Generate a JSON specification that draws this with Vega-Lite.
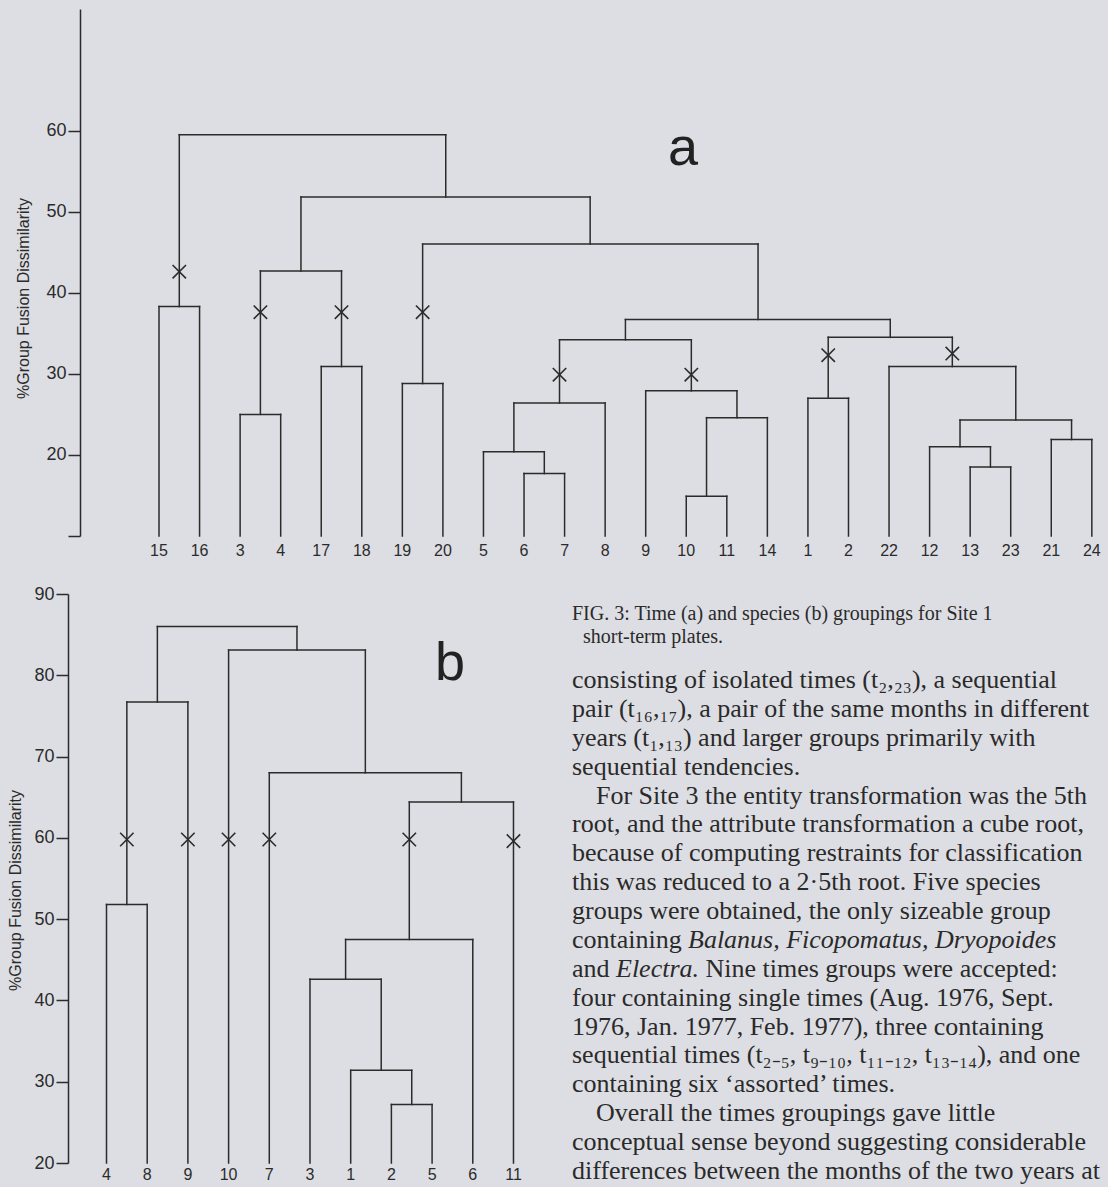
{
  "$schema": "https://vega.github.io/schema/vega-lite/v6.json",
  "background": "#dddee3",
  "padding": {"top": 9, "left": 7, "right": 0, "bottom": 0},
  "bounds": "flush",
  "spacing": 58,
  "config": {"view": {"stroke": null}, "axis": {"grid": false}},
  "datasets": {
    "segA": [
      {"pos":0,"pos2":0,"h":10,"h2":38.3},{"pos":1,"pos2":1,"h":10,"h2":38.3},
      {"pos":2,"pos2":2,"h":10,"h2":25.0},{"pos":3,"pos2":3,"h":10,"h2":25.0},
      {"pos":4,"pos2":4,"h":10,"h2":30.9},{"pos":5,"pos2":5,"h":10,"h2":30.9},
      {"pos":6,"pos2":6,"h":10,"h2":28.8},{"pos":7,"pos2":7,"h":10,"h2":28.8},
      {"pos":8,"pos2":8,"h":10,"h2":20.4},{"pos":9,"pos2":9,"h":10,"h2":17.7},
      {"pos":10,"pos2":10,"h":10,"h2":17.7},{"pos":11,"pos2":11,"h":10,"h2":26.4},
      {"pos":12,"pos2":12,"h":10,"h2":27.9},{"pos":13,"pos2":13,"h":10,"h2":14.9},
      {"pos":14,"pos2":14,"h":10,"h2":14.9},{"pos":15,"pos2":15,"h":10,"h2":24.6},
      {"pos":16,"pos2":16,"h":10,"h2":27.0},{"pos":17,"pos2":17,"h":10,"h2":27.0},
      {"pos":18,"pos2":18,"h":10,"h2":30.9},{"pos":19,"pos2":19,"h":10,"h2":21.0},
      {"pos":20,"pos2":20,"h":10,"h2":18.5},{"pos":21,"pos2":21,"h":10,"h2":18.5},
      {"pos":22,"pos2":22,"h":10,"h2":21.9},{"pos":23,"pos2":23,"h":10,"h2":21.9},
      {"pos":0.5,"pos2":0.5,"h":38.3,"h2":59.5},
      {"pos":2.5,"pos2":2.5,"h":25.0,"h2":42.7},
      {"pos":4.5,"pos2":4.5,"h":30.9,"h2":42.7},
      {"pos":3.5,"pos2":3.5,"h":42.7,"h2":51.8},
      {"pos":6.5,"pos2":6.5,"h":28.8,"h2":46.0},
      {"pos":9.5,"pos2":9.5,"h":17.7,"h2":20.4},
      {"pos":8.75,"pos2":8.75,"h":20.4,"h2":26.4},
      {"pos":9.875,"pos2":9.875,"h":26.4,"h2":34.2},
      {"pos":13.5,"pos2":13.5,"h":14.9,"h2":24.6},
      {"pos":14.25,"pos2":14.25,"h":24.6,"h2":27.9},
      {"pos":13.125,"pos2":13.125,"h":27.9,"h2":34.2},
      {"pos":11.5,"pos2":11.5,"h":34.2,"h2":36.7},
      {"pos":16.5,"pos2":16.5,"h":27.0,"h2":34.5},
      {"pos":20.5,"pos2":20.5,"h":18.5,"h2":21.0},
      {"pos":19.75,"pos2":19.75,"h":21.0,"h2":24.3},
      {"pos":22.5,"pos2":22.5,"h":21.9,"h2":24.3},
      {"pos":21.125,"pos2":21.125,"h":24.3,"h2":30.9},
      {"pos":19.56,"pos2":19.56,"h":30.9,"h2":34.5},
      {"pos":18.03,"pos2":18.03,"h":34.5,"h2":36.7},
      {"pos":14.77,"pos2":14.77,"h":36.7,"h2":46.0},
      {"pos":10.63,"pos2":10.63,"h":46.0,"h2":51.8},
      {"pos":7.07,"pos2":7.07,"h":51.8,"h2":59.5},
      {"pos":0,"pos2":1,"h":38.3,"h2":38.3},
      {"pos":2,"pos2":3,"h":25.0,"h2":25.0},
      {"pos":4,"pos2":5,"h":30.9,"h2":30.9},
      {"pos":2.5,"pos2":4.5,"h":42.7,"h2":42.7},
      {"pos":6,"pos2":7,"h":28.8,"h2":28.8},
      {"pos":9,"pos2":10,"h":17.7,"h2":17.7},
      {"pos":8,"pos2":9.5,"h":20.4,"h2":20.4},
      {"pos":8.75,"pos2":11,"h":26.4,"h2":26.4},
      {"pos":13,"pos2":14,"h":14.9,"h2":14.9},
      {"pos":13.5,"pos2":15,"h":24.6,"h2":24.6},
      {"pos":12,"pos2":14.25,"h":27.9,"h2":27.9},
      {"pos":9.875,"pos2":13.125,"h":34.2,"h2":34.2},
      {"pos":16,"pos2":17,"h":27.0,"h2":27.0},
      {"pos":20,"pos2":21,"h":18.5,"h2":18.5},
      {"pos":19,"pos2":20.5,"h":21.0,"h2":21.0},
      {"pos":22,"pos2":23,"h":21.9,"h2":21.9},
      {"pos":19.75,"pos2":22.5,"h":24.3,"h2":24.3},
      {"pos":18,"pos2":21.125,"h":30.9,"h2":30.9},
      {"pos":16.5,"pos2":19.56,"h":34.5,"h2":34.5},
      {"pos":11.5,"pos2":18.03,"h":36.7,"h2":36.7},
      {"pos":6.5,"pos2":14.77,"h":46.0,"h2":46.0},
      {"pos":3.5,"pos2":10.63,"h":51.8,"h2":51.8},
      {"pos":0.5,"pos2":7.07,"h":59.5,"h2":59.5}
    ],
    "cutsA": [
      {"pos":0.5,"h":42.6},{"pos":2.5,"h":37.6},{"pos":4.5,"h":37.6},{"pos":6.5,"h":37.6},
      {"pos":9.875,"h":29.9},{"pos":13.125,"h":29.9},{"pos":16.5,"h":32.3},{"pos":19.56,"h":32.5}
    ],
    "leavesA": [
      {"pos":0,"label":"15"},{"pos":1,"label":"16"},{"pos":2,"label":"3"},{"pos":3,"label":"4"},
      {"pos":4,"label":"17"},{"pos":5,"label":"18"},{"pos":6,"label":"19"},{"pos":7,"label":"20"},
      {"pos":8,"label":"5"},{"pos":9,"label":"6"},{"pos":10,"label":"7"},{"pos":11,"label":"8"},
      {"pos":12,"label":"9"},{"pos":13,"label":"10"},{"pos":14,"label":"11"},{"pos":15,"label":"14"},
      {"pos":16,"label":"1"},{"pos":17,"label":"2"},{"pos":18,"label":"22"},{"pos":19,"label":"12"},
      {"pos":20,"label":"13"},{"pos":21,"label":"23"},{"pos":22,"label":"21"},{"pos":23,"label":"24"}
    ],
    "letterA": [{"pos":12.92,"h":55.8,"letter":"a"}],
    "segB": [
      {"pos":0,"pos2":0,"h":20,"h2":51.8},{"pos":1,"pos2":1,"h":20,"h2":51.8},
      {"pos":2,"pos2":2,"h":20,"h2":76.7},{"pos":3,"pos2":3,"h":20,"h2":83.1},
      {"pos":4,"pos2":4,"h":20,"h2":68.0},{"pos":5,"pos2":5,"h":20,"h2":42.6},
      {"pos":6,"pos2":6,"h":20,"h2":31.4},{"pos":7,"pos2":7,"h":20,"h2":27.2},
      {"pos":8,"pos2":8,"h":20,"h2":27.2},{"pos":9,"pos2":9,"h":20,"h2":47.5},
      {"pos":10,"pos2":10,"h":20,"h2":64.4},
      {"pos":0.5,"pos2":0.5,"h":51.8,"h2":76.7},
      {"pos":1.25,"pos2":1.25,"h":76.7,"h2":86.0},
      {"pos":7.5,"pos2":7.5,"h":27.2,"h2":31.4},
      {"pos":6.75,"pos2":6.75,"h":31.4,"h2":42.6},
      {"pos":5.875,"pos2":5.875,"h":42.6,"h2":47.5},
      {"pos":7.44,"pos2":7.44,"h":47.5,"h2":64.4},
      {"pos":8.72,"pos2":8.72,"h":64.4,"h2":68.0},
      {"pos":6.36,"pos2":6.36,"h":68.0,"h2":83.1},
      {"pos":4.68,"pos2":4.68,"h":83.1,"h2":86.0},
      {"pos":0,"pos2":1,"h":51.8,"h2":51.8},
      {"pos":0.5,"pos2":2,"h":76.7,"h2":76.7},
      {"pos":7,"pos2":8,"h":27.2,"h2":27.2},
      {"pos":6,"pos2":7.5,"h":31.4,"h2":31.4},
      {"pos":5,"pos2":6.75,"h":42.6,"h2":42.6},
      {"pos":5.875,"pos2":9,"h":47.5,"h2":47.5},
      {"pos":7.44,"pos2":10,"h":64.4,"h2":64.4},
      {"pos":4,"pos2":8.72,"h":68.0,"h2":68.0},
      {"pos":3,"pos2":6.36,"h":83.1,"h2":83.1},
      {"pos":1.25,"pos2":4.68,"h":86.0,"h2":86.0}
    ],
    "cutsB": [
      {"pos":0.5,"h":59.8},{"pos":2,"h":59.8},{"pos":3,"h":59.8},{"pos":4,"h":59.8},
      {"pos":7.44,"h":59.8},{"pos":10,"h":59.6}
    ],
    "leavesB": [
      {"pos":0,"label":"4"},{"pos":1,"label":"8"},{"pos":2,"label":"9"},{"pos":3,"label":"10"},
      {"pos":4,"label":"7"},{"pos":5,"label":"3"},{"pos":6,"label":"1"},{"pos":7,"label":"2"},
      {"pos":8,"label":"5"},{"pos":9,"label":"6"},{"pos":10,"label":"11"}
    ],
    "letterB": [{"pos":8.44,"h":79.4,"letter":"b"}],
    "caption": [
      {"line":1,"part":"main","text":"FIG. 3: Time (a) and species (b) groupings for Site 1"},
      {"line":2,"part":"indent","text":"short-term plates."}
    ],
    "body": [
      {"line":1,"part":"main","text":"consisting of isolated times (t₂,₂₃), a sequential"},
      {"line":2,"part":"main","text":"pair (t₁₆,₁₇), a pair of the same months in different"},
      {"line":3,"part":"main","text":"years (t₁,₁₃) and larger groups primarily with"},
      {"line":4,"part":"main","text":"sequential tendencies."},
      {"line":5,"part":"indent","text":"For Site 3 the entity transformation was the 5th"},
      {"line":6,"part":"main","text":"root, and the attribute transformation a cube root,"},
      {"line":7,"part":"main","text":"because of computing restraints for classification"},
      {"line":8,"part":"main","text":"this was reduced to a 2·5th root. Five species"},
      {"line":9,"part":"main","text":"groups were obtained, the only sizeable group"},
      {"line":10,"part":"main","text":"containing"},
      {"line":10,"part":"genera","text":"Balanus, Ficopomatus, Dryopoides"},
      {"line":11,"part":"main","text":"and"},
      {"line":11,"part":"genus","text":"Electra."},
      {"line":11,"part":"rest","text":"Nine times groups were accepted:"},
      {"line":12,"part":"main","text":"four containing single times (Aug. 1976, Sept."},
      {"line":13,"part":"main","text":"1976, Jan. 1977, Feb. 1977), three containing"},
      {"line":14,"part":"main","text":"sequential times (t₂₋₅, t₉₋₁₀, t₁₁₋₁₂, t₁₃₋₁₄), and one"},
      {"line":15,"part":"main","text":"containing six ‘assorted’ times."},
      {"line":16,"part":"indent","text":"Overall the times groupings gave little"},
      {"line":17,"part":"main","text":"conceptual sense beyond suggesting considerable"},
      {"line":18,"part":"main","text":"differences between the months of the two years at"}
    ]
  },
  "vconcat": [
    {
      "width": 1036,
      "height": 527,
      "layer": [
        {
          "data": {"name": "segA"},
          "mark": {"type": "rule", "color": "#2b2b2b", "strokeWidth": 1.5, "strokeCap": "square"},
          "encoding": {
            "x": {"field": "pos", "type": "quantitative", "scale": {"domain": [-2.244, 23.3], "nice": false, "zero": false}, "axis": null},
            "x2": {"field": "pos2"},
            "y": {"field": "h", "type": "quantitative", "scale": {"domain": [10, 75], "nice": false, "zero": false},
              "axis": {"values": [10, 20, 30, 40, 50, 60], "labelExpr": "datum.value == 10 ? '' : datum.label",
                "tickSize": 12, "labelPadding": 2, "offset": -12,
                "domainColor": "#2b2b2b", "domainWidth": 1.5, "tickColor": "#2b2b2b", "tickWidth": 1.5,
                "labelFont": "Liberation Sans", "labelFontSize": 18, "labelColor": "#2b2b2b",
                "title": "%Group Fusion Dissimilarity", "titleFont": "Liberation Sans", "titleFontSize": 16,
                "titleFontWeight": "normal", "titleColor": "#2b2b2b", "titleX": -57, "titleY": 289,
                "titleBaseline": "middle", "titleAngle": 270}},
            "y2": {"field": "h2"}
          }
        },
        {
          "data": {"name": "cutsA"},
          "mark": {"type": "point", "shape": "M-1,-1L1,1M-1,1L1,-1", "size": 180, "filled": false, "strokeWidth": 1.6, "color": "#2b2b2b", "opacity": 1},
          "encoding": {
            "x": {"field": "pos", "type": "quantitative"},
            "y": {"field": "h", "type": "quantitative"}
          }
        },
        {
          "data": {"name": "leavesA"},
          "mark": {"type": "text", "baseline": "top", "dy": 7, "font": "Liberation Sans", "fontSize": 16, "color": "#2b2b2b"},
          "encoding": {
            "x": {"field": "pos", "type": "quantitative"},
            "y": {"datum": 10, "type": "quantitative"},
            "text": {"field": "label"}
          }
        },
        {
          "data": {"name": "letterA"},
          "mark": {"type": "text", "baseline": "alphabetic", "font": "Liberation Sans", "fontSize": 54, "color": "#222222"},
          "encoding": {
            "x": {"field": "pos", "type": "quantitative"},
            "y": {"field": "h", "type": "quantitative"},
            "text": {"field": "letter"}
          }
        }
      ]
    },
    {
      "bounds": "flush",
      "spacing": 40,
      "hconcat": [
        {
          "width": 464,
          "height": 569,
          "layer": [
            {
              "data": {"name": "segB"},
              "mark": {"type": "rule", "color": "#2b2b2b", "strokeWidth": 1.5, "strokeCap": "square"},
              "encoding": {
                "x": {"field": "pos", "type": "quantitative", "scale": {"domain": [-0.946, 10.455], "nice": false, "zero": false}, "axis": null},
                "x2": {"field": "pos2"},
                "y": {"field": "h", "type": "quantitative", "scale": {"domain": [20, 90], "nice": false, "zero": false},
                  "axis": {"values": [20, 30, 40, 50, 60, 70, 80, 90],
                    "tickSize": 12, "labelPadding": 2,
                    "domainColor": "#2b2b2b", "domainWidth": 1.5, "tickColor": "#2b2b2b", "tickWidth": 1.5,
                    "labelFont": "Liberation Sans", "labelFontSize": 18, "labelColor": "#2b2b2b",
                    "title": "%Group Fusion Dissimilarity", "titleFont": "Liberation Sans", "titleFontSize": 16,
                    "titleFontWeight": "normal", "titleColor": "#2b2b2b", "titleX": -53, "titleY": 296,
                    "titleBaseline": "middle", "titleAngle": 270}},
                "y2": {"field": "h2"}
              }
            },
            {
              "data": {"name": "cutsB"},
              "mark": {"type": "point", "shape": "M-1,-1L1,1M-1,1L1,-1", "size": 180, "filled": false, "strokeWidth": 1.6, "color": "#2b2b2b", "opacity": 1},
              "encoding": {
                "x": {"field": "pos", "type": "quantitative"},
                "y": {"field": "h", "type": "quantitative"}
              }
            },
            {
              "data": {"name": "leavesB"},
              "mark": {"type": "text", "baseline": "top", "dy": 4, "font": "Liberation Sans", "fontSize": 16, "color": "#2b2b2b"},
              "encoding": {
                "x": {"field": "pos", "type": "quantitative"},
                "y": {"datum": 20, "type": "quantitative"},
                "text": {"field": "label"}
              }
            },
            {
              "data": {"name": "letterB"},
              "mark": {"type": "text", "baseline": "alphabetic", "font": "Liberation Sans", "fontSize": 54, "color": "#222222"},
              "encoding": {
                "x": {"field": "pos", "type": "quantitative"},
                "y": {"field": "h", "type": "quantitative"},
                "text": {"field": "letter"}
              }
            }
          ]
        },
        {
          "width": 536,
          "height": 593,
          "layer": [
            {
              "data": {"name": "caption"},
              "transform": [{"filter": "datum.part == 'main'"}],
              "mark": {"type": "text", "align": "left", "baseline": "middle", "font": "Liberation Serif", "fontSize": 20, "color": "#2a2a2a", "clip": true},
              "encoding": {
                "x": {"datum": 0, "type": "quantitative", "scale": {"domain": [0, 1]}, "axis": null},
                "y": {"field": "line", "type": "quantitative", "scale": {"domain": [1, 2], "range": [20, 43]}, "axis": null},
                "text": {"field": "text"}
              }
            },
            {
              "data": {"name": "caption"},
              "transform": [{"filter": "datum.part == 'indent'"}],
              "mark": {"type": "text", "align": "left", "baseline": "middle", "dx": 11, "font": "Liberation Serif", "fontSize": 20, "color": "#2a2a2a", "clip": true},
              "encoding": {
                "x": {"datum": 0, "type": "quantitative", "scale": {"domain": [0, 1]}, "axis": null},
                "y": {"field": "line", "type": "quantitative", "scale": {"domain": [1, 2], "range": [20, 43]}, "axis": null},
                "text": {"field": "text"}
              }
            },
            {
              "data": {"name": "body"},
              "transform": [{"filter": "datum.part == 'main'"}],
              "mark": {"type": "text", "align": "left", "baseline": "middle", "font": "Liberation Serif", "fontSize": 26, "color": "#2a2a2a", "clip": true},
              "encoding": {
                "x": {"datum": 0, "type": "quantitative", "scale": {"domain": [0, 1]}, "axis": null},
                "y": {"field": "line", "type": "quantitative", "scale": {"domain": [1, 18], "range": [86, 577]}, "axis": null},
                "text": {"field": "text"}
              }
            },
            {
              "data": {"name": "body"},
              "transform": [{"filter": "datum.part == 'indent'"}],
              "mark": {"type": "text", "align": "left", "baseline": "middle", "dx": 24, "font": "Liberation Serif", "fontSize": 26, "color": "#2a2a2a", "clip": true},
              "encoding": {
                "x": {"datum": 0, "type": "quantitative", "scale": {"domain": [0, 1]}, "axis": null},
                "y": {"field": "line", "type": "quantitative", "scale": {"domain": [1, 18], "range": [86, 577]}, "axis": null},
                "text": {"field": "text"}
              }
            },
            {
              "data": {"name": "body"},
              "transform": [{"filter": "datum.part == 'genera'"}],
              "mark": {"type": "text", "align": "left", "baseline": "middle", "dx": 116, "font": "Liberation Serif", "fontStyle": "italic", "fontSize": 26, "color": "#2a2a2a", "clip": true},
              "encoding": {
                "x": {"datum": 0, "type": "quantitative", "scale": {"domain": [0, 1]}, "axis": null},
                "y": {"field": "line", "type": "quantitative", "scale": {"domain": [1, 18], "range": [86, 577]}, "axis": null},
                "text": {"field": "text"}
              }
            },
            {
              "data": {"name": "body"},
              "transform": [{"filter": "datum.part == 'genus'"}],
              "mark": {"type": "text", "align": "left", "baseline": "middle", "dx": 44, "font": "Liberation Serif", "fontStyle": "italic", "fontSize": 26, "color": "#2a2a2a", "clip": true},
              "encoding": {
                "x": {"datum": 0, "type": "quantitative", "scale": {"domain": [0, 1]}, "axis": null},
                "y": {"field": "line", "type": "quantitative", "scale": {"domain": [1, 18], "range": [86, 577]}, "axis": null},
                "text": {"field": "text"}
              }
            },
            {
              "data": {"name": "body"},
              "transform": [{"filter": "datum.part == 'rest'"}],
              "mark": {"type": "text", "align": "left", "baseline": "middle", "dx": 133.5, "font": "Liberation Serif", "fontSize": 26, "color": "#2a2a2a", "clip": true},
              "encoding": {
                "x": {"datum": 0, "type": "quantitative", "scale": {"domain": [0, 1]}, "axis": null},
                "y": {"field": "line", "type": "quantitative", "scale": {"domain": [1, 18], "range": [86, 577]}, "axis": null},
                "text": {"field": "text"}
              }
            }
          ],
          "resolve": {"scale": {"y": "independent"}}
        }
      ]
    }
  ]
}
